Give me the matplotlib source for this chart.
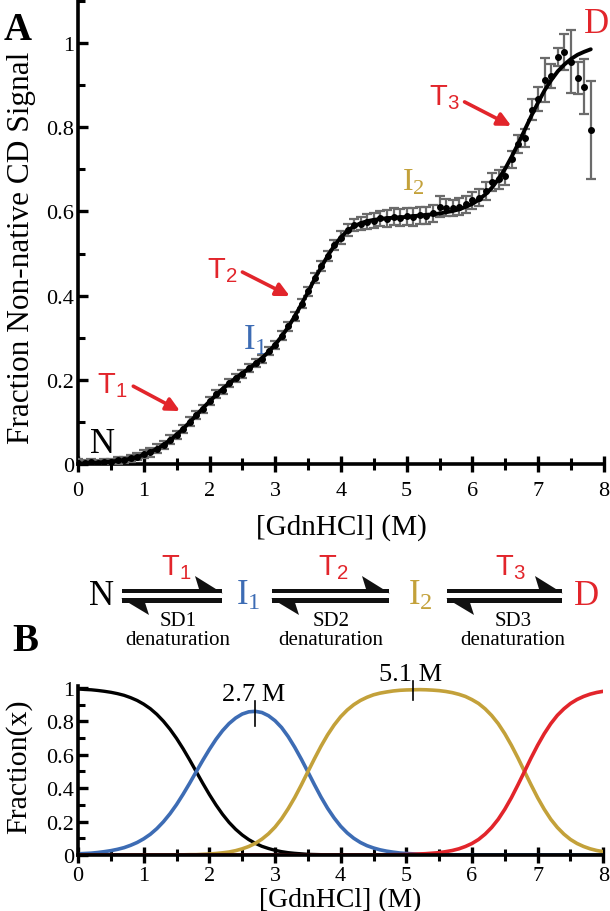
import matplotlib
matplotlib.use("Agg")
import matplotlib.pyplot as plt
from matplotlib.patches import Polygon, Rectangle
from matplotlib.ticker import MultipleLocator

# ---- panel A: CD denaturation data (GdnHCl in M) ----
conc = [0.0, 0.1, 0.2, 0.3, 0.4, 0.5, 0.6, 0.7, 0.8, 0.9,
        1.0, 1.1, 1.2, 1.3, 1.4, 1.5, 1.6, 1.7, 1.8, 1.9,
        2.0, 2.1, 2.2, 2.3, 2.4, 2.5, 2.6, 2.7, 2.8, 2.9,
        3.0, 3.1, 3.2, 3.3, 3.4, 3.5, 3.6, 3.7, 3.8, 3.9,
        4.0, 4.1, 4.2, 4.3, 4.4, 4.5, 4.6, 4.7, 4.8, 4.9,
        5.0, 5.1, 5.2, 5.3, 5.4, 5.5, 5.6, 5.7, 5.8, 5.9,
        6.0, 6.1, 6.2, 6.3, 6.4, 6.5, 6.6, 6.7, 6.8, 6.9,
        7.0, 7.1, 7.2, 7.3, 7.4, 7.5, 7.6, 7.7, 7.8]
cd_signal = [0.003, 0.002, 0.004, 0.002, 0.005, 0.005, 0.009, 0.010, 0.014, 0.018,
             0.024, 0.028, 0.037, 0.045, 0.058, 0.069, 0.083, 0.101, 0.117, 0.131,
             0.150, 0.166, 0.177, 0.193, 0.205, 0.214, 0.228, 0.240, 0.250, 0.268,
             0.283, 0.305, 0.327, 0.350, 0.381, 0.410, 0.441, 0.470, 0.494, 0.521,
             0.538, 0.556, 0.568, 0.571, 0.576, 0.578, 0.584, 0.583, 0.587, 0.585,
             0.588, 0.587, 0.591, 0.590, 0.596, 0.611, 0.609, 0.608, 0.611, 0.617,
             0.626, 0.633, 0.648, 0.670, 0.676, 0.684, 0.724, 0.760, 0.774, 0.841,
             0.867, 0.912, 0.922, 0.967, 0.979, 0.955, 0.917, 0.896, 0.793]
cd_err = [0.008, 0.008, 0.008, 0.008, 0.008, 0.008, 0.008, 0.008, 0.008, 0.008,
          0.010, 0.010, 0.010, 0.010, 0.010, 0.010, 0.010, 0.010, 0.010, 0.010,
          0.010, 0.010, 0.010, 0.010, 0.010, 0.010, 0.010, 0.010, 0.010, 0.010,
          0.010, 0.010, 0.010, 0.010, 0.010, 0.010, 0.012, 0.012, 0.012, 0.012,
          0.015, 0.015, 0.015, 0.015, 0.018, 0.018, 0.018, 0.020, 0.020, 0.020,
          0.020, 0.022, 0.020, 0.020, 0.020, 0.025, 0.020, 0.020, 0.020, 0.020,
          0.020, 0.020, 0.022, 0.022, 0.022, 0.022, 0.020, 0.022, 0.022, 0.025,
          0.028, 0.053, 0.028, 0.022, 0.043, 0.075, 0.038, 0.065, 0.116]
cd_fit = [0.002, 0.002, 0.003, 0.003, 0.005, 0.006, 0.008, 0.010, 0.013, 0.017,
          0.022, 0.029, 0.036, 0.046, 0.057, 0.070, 0.084, 0.100, 0.116, 0.133,
          0.149, 0.164, 0.179, 0.192, 0.204, 0.216, 0.227, 0.239, 0.252, 0.267,
          0.284, 0.304, 0.326, 0.352, 0.380, 0.409, 0.440, 0.468, 0.495, 0.519,
          0.539, 0.554, 0.565, 0.572, 0.577, 0.580, 0.582, 0.584, 0.585, 0.586,
          0.587, 0.589, 0.590, 0.592, 0.593, 0.595, 0.598, 0.601, 0.605, 0.611,
          0.618, 0.628, 0.641, 0.657, 0.678, 0.702, 0.731, 0.762, 0.795, 0.828,
          0.859, 0.888, 0.912, 0.933, 0.949, 0.962, 0.972, 0.979, 0.985]

# ---- panel B: species fractions ----
conc_b = [0.0, 0.1, 0.2, 0.3, 0.4, 0.5, 0.6, 0.7, 0.8, 0.9,
          1.0, 1.1, 1.2, 1.3, 1.4, 1.5, 1.6, 1.7, 1.8, 1.9,
          2.0, 2.1, 2.2, 2.3, 2.4, 2.5, 2.6, 2.7, 2.8, 2.9,
          3.0, 3.1, 3.2, 3.3, 3.4, 3.5, 3.6, 3.7, 3.8, 3.9,
          4.0, 4.1, 4.2, 4.3, 4.4, 4.5, 4.6, 4.7, 4.8, 4.9,
          5.0, 5.1, 5.2, 5.3, 5.4, 5.5, 5.6, 5.7, 5.8, 5.9,
          6.0, 6.1, 6.2, 6.3, 6.4, 6.5, 6.6, 6.7, 6.8, 6.9,
          7.0, 7.1, 7.2, 7.3, 7.4, 7.5, 7.6, 7.7, 7.8, 7.9,
          8.0]
frac_N = [0.994, 0.991, 0.989, 0.985, 0.980, 0.974, 0.966, 0.956, 0.942, 0.925,
          0.903, 0.876, 0.842, 0.801, 0.753, 0.698, 0.636, 0.569, 0.499, 0.429,
          0.362, 0.300, 0.244, 0.195, 0.154, 0.120, 0.092, 0.070, 0.052, 0.039,
          0.028, 0.020, 0.014, 0.010, 0.007, 0.004, 0.003, 0.002, 0.001, 0.001,
          0.0, 0.0, 0.0, 0.0, 0.0, 0.0, 0.0, 0.0, 0.0, 0.0,
          0.0, 0.0, 0.0, 0.0, 0.0, 0.0, 0.0, 0.0, 0.0, 0.0,
          0.0, 0.0, 0.0, 0.0, 0.0, 0.0, 0.0, 0.0, 0.0, 0.0,
          0.0, 0.0, 0.0, 0.0, 0.0, 0.0, 0.0, 0.0, 0.0, 0.0,
          0.0]
frac_I1 = [0.007, 0.009, 0.011, 0.015, 0.020, 0.026, 0.034, 0.044, 0.058, 0.075,
           0.097, 0.124, 0.158, 0.199, 0.247, 0.302, 0.364, 0.430, 0.499, 0.567,
           0.632, 0.692, 0.744, 0.787, 0.820, 0.844, 0.857, 0.860, 0.853, 0.834,
           0.804, 0.763, 0.709, 0.645, 0.574, 0.498, 0.421, 0.347, 0.280, 0.222,
           0.172, 0.132, 0.100, 0.075, 0.056, 0.042, 0.031, 0.023, 0.017, 0.012,
           0.009, 0.007, 0.005, 0.004, 0.003, 0.002, 0.001, 0.001, 0.001, 0.0,
           0.0, 0.0, 0.0, 0.0, 0.0, 0.0, 0.0, 0.0, 0.0, 0.0,
           0.0, 0.0, 0.0, 0.0, 0.0, 0.0, 0.0, 0.0, 0.0, 0.0,
           0.0]
frac_I2 = [0.0, 0.0, 0.0, 0.0, 0.0, 0.0, 0.0, 0.0, 0.0, 0.0,
           0.0, 0.0, 0.0, 0.0, 0.0, 0.001, 0.001, 0.002, 0.002, 0.004,
           0.006, 0.009, 0.013, 0.018, 0.026, 0.037, 0.051, 0.070, 0.095, 0.127,
           0.167, 0.217, 0.277, 0.344, 0.419, 0.498, 0.576, 0.651, 0.719, 0.778,
           0.828, 0.868, 0.900, 0.925, 0.944, 0.959, 0.969, 0.976, 0.982, 0.986,
           0.988, 0.989, 0.990, 0.989, 0.987, 0.984, 0.979, 0.972, 0.962, 0.949,
           0.930, 0.907, 0.875, 0.835, 0.786, 0.726, 0.657, 0.581, 0.500, 0.420,
           0.343, 0.274, 0.214, 0.165, 0.125, 0.093, 0.069, 0.051, 0.037, 0.027,
           0.020]
frac_D = [0.0, 0.0, 0.0, 0.0, 0.0, 0.0, 0.0, 0.0, 0.0, 0.0,
          0.0, 0.0, 0.0, 0.0, 0.0, 0.0, 0.0, 0.0, 0.0, 0.0,
          0.0, 0.0, 0.0, 0.0, 0.0, 0.0, 0.0, 0.0, 0.0, 0.0,
          0.0, 0.0, 0.0, 0.0, 0.0, 0.0, 0.0, 0.0, 0.0, 0.0,
          0.0, 0.0, 0.0, 0.0, 0.0, 0.0, 0.001, 0.001, 0.002, 0.002,
          0.003, 0.004, 0.006, 0.008, 0.011, 0.014, 0.020, 0.027, 0.037, 0.051,
          0.069, 0.093, 0.125, 0.165, 0.214, 0.274, 0.343, 0.420, 0.500, 0.581,
          0.657, 0.726, 0.786, 0.836, 0.875, 0.907, 0.931, 0.949, 0.963, 0.973,
          0.980]
peak_marks = [(2.7, 0.77, 0.92, "2.7 M"), (5.1, 0.93, 1.04, "5.1 M")]

BLUE = "#3d6cb4"
GOLD = "#c3a13a"
RED = "#e2252b"
SERIF = ["Liberation Serif", "DejaVu Serif"]
SANS = ["Liberation Sans", "DejaVu Sans"]

plt.rcParams["font.family"] = SERIF
plt.rcParams["mathtext.default"] = "regular"

fig = plt.figure(figsize=(6.1, 9.12), dpi=100)


def style_axes(ax, xpad):
    for s in ("top", "right"):
        ax.spines[s].set_visible(False)
    for s in ("left", "bottom"):
        ax.spines[s].set_linewidth(2.6)
    ax.xaxis.set_major_locator(MultipleLocator(1))
    ax.xaxis.set_minor_locator(MultipleLocator(0.5))
    ax.yaxis.set_major_locator(MultipleLocator(0.2))
    ax.yaxis.set_minor_locator(MultipleLocator(0.1))
    ax.tick_params(axis="x", which="major", direction="inout", length=12, width=2.4,
                   labelsize=16, pad=xpad)
    ax.tick_params(axis="x", which="minor", direction="inout", length=8, width=2.2)
    ax.tick_params(axis="y", which="major", direction="in", length=7, width=2.4,
                   labelsize=16, pad=3)
    ax.tick_params(axis="y", which="minor", direction="in", length=5, width=2.2)
    ax.set_xticks(range(9))
    ax.set_xticklabels([str(i) for i in range(9)])
    ax.set_yticks([0, 0.2, 0.4, 0.6, 0.8, 1.0])
    ax.set_yticklabels(["0", "0.2", "0.4", "0.6", "0.8", "1"])


# ---------------- panel A ----------------
axA = fig.add_axes([0.128, 0.490, 0.862, 0.508])
axA.errorbar(conc, cd_signal, yerr=cd_err, fmt="o", ms=4, color="black",
             ecolor="#6b6b6b", elinewidth=1.6, capsize=3.5, capthick=1.6, zorder=3)
axA.plot(conc, cd_fit, color="black", lw=2.8, zorder=4, solid_capstyle="round")
axA.set_xlim(0, 8)
axA.set_ylim(0, 1.1)
style_axes(axA, 6)
axA.set_xlabel("[GdnHCl] (M)", fontsize=21)
axA.set_ylabel("Fraction Non-native CD Signal", fontsize=22.5)
axA.xaxis.set_label_coords(0.5, -0.134)
axA.xaxis.label.set_va("center")
axA.yaxis.set_label_coords(-0.107, 0.469)
axA.yaxis.label.set_va("center")

axA.text(0.18, 0.028, "N", fontsize=25, color="black", ha="left", va="baseline")
axA.text(2.51, 0.273, "I$_1$", fontsize=25, color=BLUE, ha="left", va="baseline")
axA.text(4.93, 0.653, "I$_2$", fontsize=23, color=GOLD, ha="left", va="baseline")
axA.text(7.70, 1.026, "D", fontsize=25, color=RED, ha="left", va="baseline")

t_labels = [("T$_1$", 0.29, 0.171, (0.84, 0.185), (1.55, 0.126)),
            ("T$_2$", 1.96, 0.444, (2.50, 0.456), (3.22, 0.399)),
            ("T$_3$", 5.34, 0.855, (5.88, 0.860), (6.59, 0.803))]
for txt, tx, ty, start, tip in t_labels:
    axA.text(tx, ty, txt, fontsize=21, color=RED, family=SANS, ha="left", va="baseline")
    axA.annotate("", xy=tip, xytext=start,
                 arrowprops=dict(arrowstyle="-|>", color=RED, lw=2.6,
                                 mutation_scale=20, shrinkA=0, shrinkB=0))

# ---------------- panel B ----------------
axB = fig.add_axes([0.128, 0.0614, 0.861, 0.185])
axB.plot(conc_b, frac_N, color="black", lw=2.4)
axB.plot(conc_b, frac_I1, color=BLUE, lw=2.6)
axB.plot(conc_b, frac_I2, color=GOLD, lw=2.6)
axB.plot(conc_b, frac_D, color=RED, lw=2.6)
axB.set_xlim(0, 8)
axB.set_ylim(0, 1.01)
style_axes(axB, 2)
axB.set_xlabel("[GdnHCl] (M)", fontsize=20)
axB.set_ylabel("Fraction(x)", fontsize=21.5)
axB.xaxis.set_label_coords(0.5, -0.262)
axB.xaxis.label.set_va("center")
axB.yaxis.set_label_coords(-0.114, 0.527)
axB.yaxis.label.set_va("center")
for xm, y0, y1, lab in peak_marks:
    axB.plot([xm, xm], [y0, y1], color="black", lw=1.2, clip_on=False, zorder=5)
    axB.text(xm - 0.03, y1 + 0.01, lab, fontsize=19, ha="center", va="baseline")

# ---------------- scheme + panel letters (pixel overlay) ----------------
ov = fig.add_axes([0, 0, 1, 1], zorder=-1)
ov.set_xlim(0, 610)
ov.set_ylim(912, 0)
ov.axis("off")

ov.text(18, 40, "A", fontsize=28, fontweight="bold", ha="center", va="baseline")
ov.text(25, 651, "B", fontsize=28, fontweight="bold", ha="center", va="baseline")

species = [("N", 89, "black"), ("I$_1$", 236, BLUE), ("I$_2$", 408, GOLD), ("D", 574, RED)]
for lab, x, c in species:
    ov.text(x, 605, lab, fontsize=25, color=c, ha="left", va="baseline")

steps = [(122, 222, "T$_1$", 161, 178, "SD1"),
         (272, 389, "T$_2$", 318, 331, "SD2"),
         (447, 562, "T$_3$", 495, 513, "SD3")]
for x0, x1, tlab, tx, sx, sdlab in steps:
    ov.add_patch(Rectangle((x0, 590.0), x1 - x0, 4.4, color="#111111", lw=0))
    ov.add_patch(Polygon([(x1 + 1, 594.4), (x1 - 27, 577.0), (x1 - 23, 590.0)],
                         closed=True, color="#111111", lw=0))
    ov.add_patch(Rectangle((x0, 599.2), x1 - x0, 4.4, color="#111111", lw=0))
    ov.add_patch(Polygon([(x0 - 1, 599.2), (x0 + 27, 616.0), (x0 + 23, 603.6)],
                         closed=True, color="#111111", lw=0))
    ov.text(tx, 575, tlab, fontsize=21, color=RED, family=SANS, ha="left", va="baseline")
    ov.text(sx, 626, sdlab, fontsize=15, ha="center", va="baseline")
    ov.text(sx, 645, "denaturation", fontsize=15, ha="center", va="baseline")

fig.savefig("out.png", dpi=100)
